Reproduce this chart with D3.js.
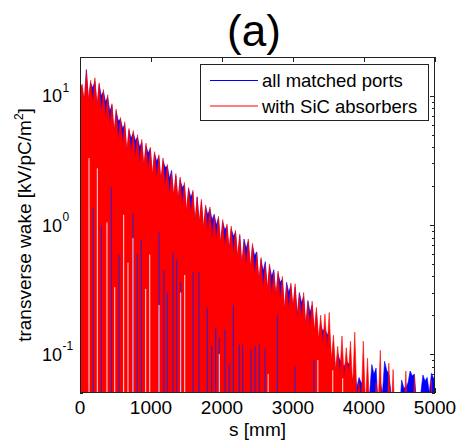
<!DOCTYPE html>
<html>
<head>
<meta charset="utf-8">
<script src="https://cdn.jsdelivr.net/npm/d3@7"></script>
<style>
  body { margin: 0; background: #fff; }
  text { font-family: "Liberation Sans", Arial, sans-serif; fill: #000; }
</style>
</head>
<body>
<div id="chart"></div>
<script>
// wake tips (every 60 mm, first at 30 mm) and dips (every 60 mm, first at 0)
var redPeaks = [12.3, 15.5, 13.2, 13.8, 12.6, 11.2, 10.2, 8.7, 7.9, 6.8,
  6.3, 5.6, 5.4, 5.0, 4.6, 4.3, 4.0, 3.7, 3.5, 3.3,
  2.95, 2.55, 2.5, 2.35, 2.14, 1.95, 1.86, 1.62, 1.58, 1.43,
  1.38, 1.18, 1.17, 1.10, 1.02, 0.98, 0.91, 0.85, 0.74, 0.78,
  0.72, 0.60, 0.56, 0.49, 0.50, 0.43, 0.44, 0.40, 0.34, 0.355,
  0.35, 0.29, 0.30, 0.25, 0.257, 0.23, 0.20, 0.204, 0.21, 0.14,
  0.115, 0.138, 0.112, 0.126, 0.148, 0.06, 0.126, 0.093, 0.04, 0.06,
  0.107, 0.04, 0.085, 0.076, 0.045, 0.05, 0.074, 0.045, 0.068, 0.04,
  0.04, 0.045, 0.063];
var redValleys = [11.5, 9.0, 9.3, 8.8, 8.4, 7.4, 6.7, 5.8, 5.2, 4.5,
  4.2, 3.7, 3.6, 3.3, 3.0, 2.85, 2.65, 2.45, 2.3, 2.2,
  1.95, 1.7, 1.65, 1.55, 1.4, 1.28, 1.22, 1.07, 1.04, 0.94,
  0.9, 0.78, 0.77, 0.72, 0.67, 0.64, 0.6, 0.56, 0.49, 0.49,
  0.47, 0.4, 0.37, 0.32, 0.32, 0.28, 0.28, 0.26, 0.22, 0.22,
  0.23, 0.19, 0.19, 0.165, 0.165, 0.15, 0.13, 0.12, 0.11, 0.09,
  0.075, 0.07, 0.065, 0.07, 0.055, 0.045, 0.04, 0.04, 0.035, 0.03,
  0.04, 0.02, 0.03, 0.03, 0.025, 0.02, 0.03, 0.02, 0.03, 0.02,
  0.02, 0.02, 0.02, 0.02];
var bluePeaks = [11.5, 16.0, 12.6, 13.0, 12.2, 10.8, 9.8, 8.5, 7.6, 6.6,
  6.0, 5.4, 5.2, 4.8, 4.4, 4.1, 3.9, 3.6, 3.4, 3.15,
  2.85, 2.65, 2.4, 2.25, 2.05, 1.9, 1.8, 1.66, 1.52, 1.38,
  1.33, 1.21, 1.13, 1.06, 0.98, 0.94, 0.88, 0.82, 0.78, 0.75,
  0.69, 0.62, 0.54, 0.52, 0.48, 0.45, 0.42, 0.38, 0.36, 0.34,
  0.33, 0.30, 0.28, 0.26, 0.24, 0.21, 0.17, 0.16, 0.15, 0.11,
  0.10, 0.085, 0.088, 0.08, 0.07, 0.066, 0.06, 0.05, 0.083, 0.078,
  0.06, 0.088, 0.07, 0.05, 0.045, 0.063, 0.055, 0.074, 0.07, 0.05,
  0.069, 0.066, 0.071];
var blueValleys = [11.0, 8.6, 8.9, 11.5, 8.0, 10.0, 9.0, 7.6, 5.0, 6.4,
  5.6, 3.5, 4.7, 4.5, 4.0, 2.7, 3.6, 2.3, 3.1, 2.1,
  2.8, 2.3, 1.6, 1.5, 1.95, 1.2, 1.65, 1.0, 1.0, 0.9,
  1.2, 1.1, 1.0, 0.7, 0.92, 0.62, 0.82, 0.54, 0.47, 0.66,
  0.45, 0.58, 0.35, 0.44, 0.3, 0.40, 0.27, 0.36, 0.21, 0.30,
  0.22, 0.2, 0.25, 0.16, 0.21, 0.14, 0.12, 0.15, 0.14, 0.085,
  0.072, 0.09, 0.08, 0.085, 0.062, 0.055, 0.06, 0.04, 0.05, 0.07,
  0.04, 0.05, 0.075, 0.05, 0.04, 0.035, 0.055, 0.06, 0.068, 0.04,
  0.05, 0.062, 0.05, 0.065];

// deep zero crossings seen as thin lines inside the red fill
var blueGapS = [183, 300, 441, 549, 746, 807, 863, 1113, 1183, 1230,
  1310, 1362, 1418, 1592, 1676, 1793, 1855, 1911, 1962, 2042,
  2103, 2159, 2244, 2292, 2408, 2465, 2525, 2605, 2780, 3028, 3296];
var blueGapTop = [1.35, 0.98, 1.96, 0.59, 1.23, 0.6, 0.77, 0.87, 0.45, 0.30,
  0.61, 0.54, 0.36, 0.43, 0.43, 0.23, 0.115, 0.16, 0.134, 0.155,
  0.083, 0.24, 0.118, 0.118, 0.108, 0.115, 0.118, 0.11, 0.2, 0.08, 0.09];
var whiteGapS = [127, 244, 380, 489, 615, 676, 746, 925, 982, 1113, 1418, 1475, 1962, 2650, 3350, 3560, 3700];
var whiteGapTop = [3.3, 2.75, 1.05, 0.33, 1.2, 0.51, 0.79, 0.32, 0.59, 0.24, 0.30, 0.41, 0.10, 0.07, 0.09, 0.075, 0.065];

var xTicks = [0, 1000, 2000, 3000, 4000, 5000];
var yMajor = [0.1, 1, 10];
var yExp = ["-1", "0", "1"];
var seriesNames = ["all matched ports", "with SiC absorbers"];
var seriesColors = ["#0000ff", "#ff0000"];

var width = 458, height = 442;
var pLeft = 80, pRight = 435, pTop = 57, pBottom = 393;

var svg = d3.select("#chart").append("svg")
  .attr("width", width)
  .attr("height", height);

var x = d3.scaleLinear().domain([0, 5000]).range([pLeft, pRight]);
var y = d3.scaleLog().domain([0.05, 20]).range([pBottom, pTop]);

// interleave dips and tips into one trace
function zigzag(valleys, peaks) {
  var pts = [];
  valleys.forEach(function (v, k) {
    pts.push({ s: 60 * k, v: v });
    if (k < peaks.length) pts.push({ s: 30 + 60 * k, v: peaks[k] });
  });
  pts.push({ s: 5000, v: valleys[valleys.length - 1] });
  return pts;
}

svg.append("clipPath").attr("id", "plotclip")
  .append("rect")
  .attr("x", pLeft).attr("y", pTop)
  .attr("width", pRight - pLeft).attr("height", pBottom - pTop);

// ticks first, data covers them like MATLAB does
var tickG = svg.append("g").attr("stroke", "#222").attr("stroke-width", 1);
xTicks.forEach(function (t) {
  var xx = Math.round(x(t)) + 0.5;
  tickG.append("line").attr("x1", xx).attr("x2", xx).attr("y1", pBottom).attr("y2", pBottom - 5);
  tickG.append("line").attr("x1", xx).attr("x2", xx).attr("y1", pTop).attr("y2", pTop + 5);
});
y.ticks().forEach(function (t) {
  var yy = Math.round(y(t)) + 0.5;
  var major = yMajor.indexOf(t) >= 0;
  var len = major ? 5 : 3;
  tickG.append("line").attr("x1", pLeft).attr("x2", pLeft + len).attr("y1", yy).attr("y2", yy);
  tickG.append("line").attr("x1", pRight).attr("x2", pRight - len).attr("y1", yy).attr("y2", yy);
});

var plot = svg.append("g").attr("clip-path", "url(#plotclip)");

var area = d3.area()
  .x(function (d) { return x(d.s); })
  .y0(pBottom + 2)
  .y1(function (d) { return y(Math.max(d.v, 0.01)); });

plot.append("path")
  .datum(zigzag(blueValleys, bluePeaks))
  .attr("d", area)
  .attr("fill", seriesColors[0])
  .attr("stroke", seriesColors[0])
  .attr("stroke-width", 0.6);

plot.append("path")
  .datum(zigzag(redValleys, redPeaks))
  .attr("d", area)
  .attr("fill", seriesColors[1])
  .attr("stroke", seriesColors[1])
  .attr("stroke-width", 0.6);

plot.selectAll(".bgap")
  .data(blueGapS)
  .enter()
  .append("line")
  .attr("class", "bgap")
  .attr("x1", function (d) { return x(d); })
  .attr("x2", function (d) { return x(d); })
  .attr("y1", pBottom)
  .attr("y2", function (d, i) { return y(blueGapTop[i]); })
  .attr("stroke", "#4a1cb0")
  .attr("stroke-width", 1.2);

plot.selectAll(".wgap")
  .data(whiteGapS)
  .enter()
  .append("line")
  .attr("class", "wgap")
  .attr("x1", function (d) { return x(d); })
  .attr("x2", function (d) { return x(d); })
  .attr("y1", pBottom)
  .attr("y2", function (d, i) { return y(whiteGapTop[i]); })
  .attr("stroke", "#ffdede")
  .attr("stroke-width", 1);

// frame
svg.append("rect")
  .attr("x", pLeft + 0.5).attr("y", pTop + 0.5)
  .attr("width", pRight - pLeft - 1).attr("height", pBottom - pTop - 1)
  .attr("fill", "none")
  .attr("stroke", "#222")
  .attr("stroke-width", 1);

// x tick labels
svg.selectAll(".xlab")
  .data(xTicks)
  .enter()
  .append("text")
  .attr("x", function (d) { return x(d); })
  .attr("y", 414)
  .attr("text-anchor", "middle")
  .style("font-size", "19px")
  .text(function (d) { return d; });

// y tick labels as 10^n
yMajor.forEach(function (t, i) {
  var yy = y(t);
  svg.append("text")
    .attr("x", 62).attr("y", yy + 6.5)
    .attr("text-anchor", "end")
    .style("font-size", "18px")
    .text("10");
  svg.append("text")
    .attr("x", 62.5).attr("y", yy - 4)
    .style("font-size", "12px")
    .text(yExp[i]);
});

svg.append("text")
  .attr("x", (pLeft + pRight) / 2)
  .attr("y", 436)
  .attr("text-anchor", "middle")
  .style("font-size", "19px")
  .text("s [mm]");

var ylab = svg.append("text")
  .attr("transform", "translate(31," + (pTop + pBottom) / 2 + ") rotate(-90)")
  .attr("text-anchor", "middle")
  .style("font-size", "19px");
ylab.append("tspan").text("transverse wake [kV/pC/m");
ylab.append("tspan").attr("dy", -8).style("font-size", "12px").text("2");
ylab.append("tspan").attr("dy", 8).text("]");

svg.append("text")
  .attr("x", 254)
  .attr("y", 46)
  .attr("text-anchor", "middle")
  .style("font-size", "44px")
  .text("(a)");

// legend
var legend = svg.append("g");
legend.append("rect")
  .attr("x", 200.5).attr("y", 64.5)
  .attr("width", 228).attr("height", 56)
  .attr("fill", "#fff")
  .attr("stroke", "#222");
seriesNames.forEach(function (name, i) {
  var ly = 80.5 + i * 25.5;
  legend.append("line")
    .attr("x1", 210).attr("x2", 258)
    .attr("y1", ly).attr("y2", ly)
    .attr("stroke", seriesColors[i])
    .attr("stroke-width", 1);
  legend.append("text")
    .attr("x", 262).attr("y", ly + 6.5)
    .style("font-size", "18.5px")
    .text(name);
});
</script>
</body>
</html>
